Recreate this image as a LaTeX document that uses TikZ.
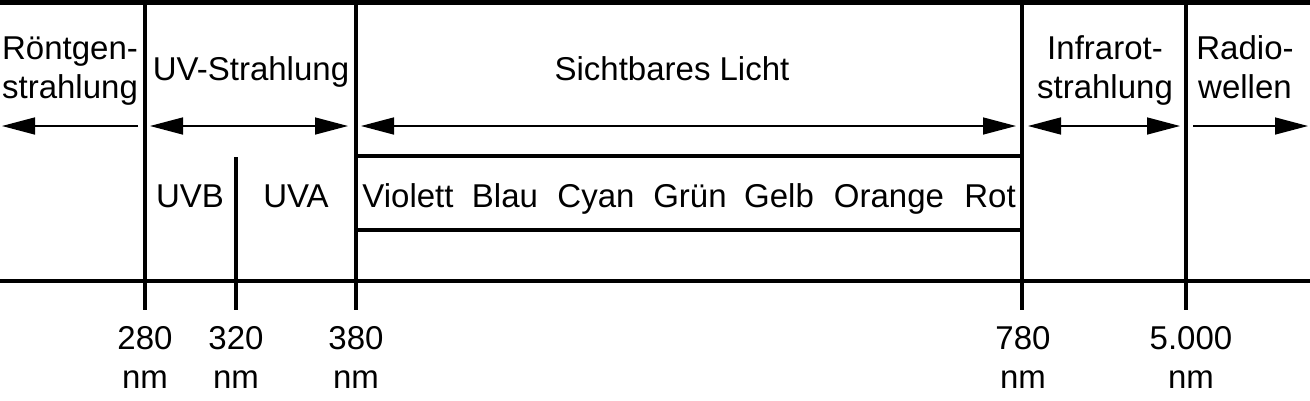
\documentclass[tikz,border=0pt]{standalone}
\usepackage{fontspec}
\setmainfont{Liberation Sans}
\usetikzlibrary{arrows.meta}

\begin{document}
\begin{tikzpicture}[x=1pt,y=-1pt]
			\tikzstyle{region} = [font=\fontsize{33}{38.5}\selectfont, anchor=base, align=center, inner sep=0pt]
			\tikzstyle{border} = [line width=4.5pt]
			\tikzset{edge/.style = {line width=1.5pt, >={Triangle[length=33pt,width=17pt]}}}

			\useasboundingbox (0,0) rectangle (1310,400);

			% frame
			\draw[border] (0,2.5) -- (1310,2.5);
			\draw[border] (0,281) -- (1310,281);
			\draw[border] (145,0) -- (145,310);
			\draw[border] (236,157) -- (236,310);
			\draw[border] (356,0) -- (356,310);
			\draw[border] (1022,0) -- (1022,310);
			\draw[border] (1186,0) -- (1186,310);
			\draw[border] (356,156) -- (1022,156);
			\draw[border] (356,230) -- (1022,230);

			% arrows
			\coordinate (xray-r) at (138,126);   \coordinate (xray-l) at (2,126);
			\coordinate (uv-l) at (150,126);     \coordinate (uv-r) at (348,126);
			\coordinate (vis-l) at (361,126);    \coordinate (vis-r) at (1016,126);
			\coordinate (ir-l) at (1028,126);    \coordinate (ir-r) at (1180,126);
			\coordinate (radio-l) at (1193,126); \coordinate (radio-r) at (1308,126);
			\draw[edge,->](xray-r) to (xray-l);
			\draw[edge,<->](uv-l) to (uv-r);
			\draw[edge,<->](vis-l) to (vis-r);
			\draw[edge,<->](ir-l) to (ir-r);
			\draw[edge,->](radio-l) to (radio-r);

			% regions (base = last line)
			\node[region](xray) at (70,98) {Röntgen-\\strahlung};
			\node[region](uv) at (251,80) {UV-Strahlung};
			\node[region](vis) at (672,80) {Sichtbares Licht};
			\node[region](ir) at (1105,98) {Infrarot-\\strahlung};
			\node[region](radio) at (1245,98) {Radio-\\wellen};
			\node[region](uvb) at (190,207) {UVB};
			\node[region](uva) at (296,207) {UVA};

			% colours
			\node[region](violett) at (408,207) {Violett};
			\node[region](blau) at (505,207) {Blau};
			\node[region](cyan) at (596,207) {Cyan};
			\node[region](gruen) at (690,207) {Grün};
			\node[region](gelb) at (779,207) {Gelb};
			\node[region](orange) at (889,207) {Orange};
			\node[region](rot) at (990,207) {Rot};

			% wavelengths
			\node[region](nm280) at (145,388) {280\\nm};
			\node[region](nm320) at (236,388) {320\\nm};
			\node[region](nm380) at (356,388) {380\\nm};
			\node[region](nm780) at (1023,388) {780\\nm};
			\node[region](nm5000) at (1191,388) {5.000\\nm};

\end{tikzpicture}
\end{document}
